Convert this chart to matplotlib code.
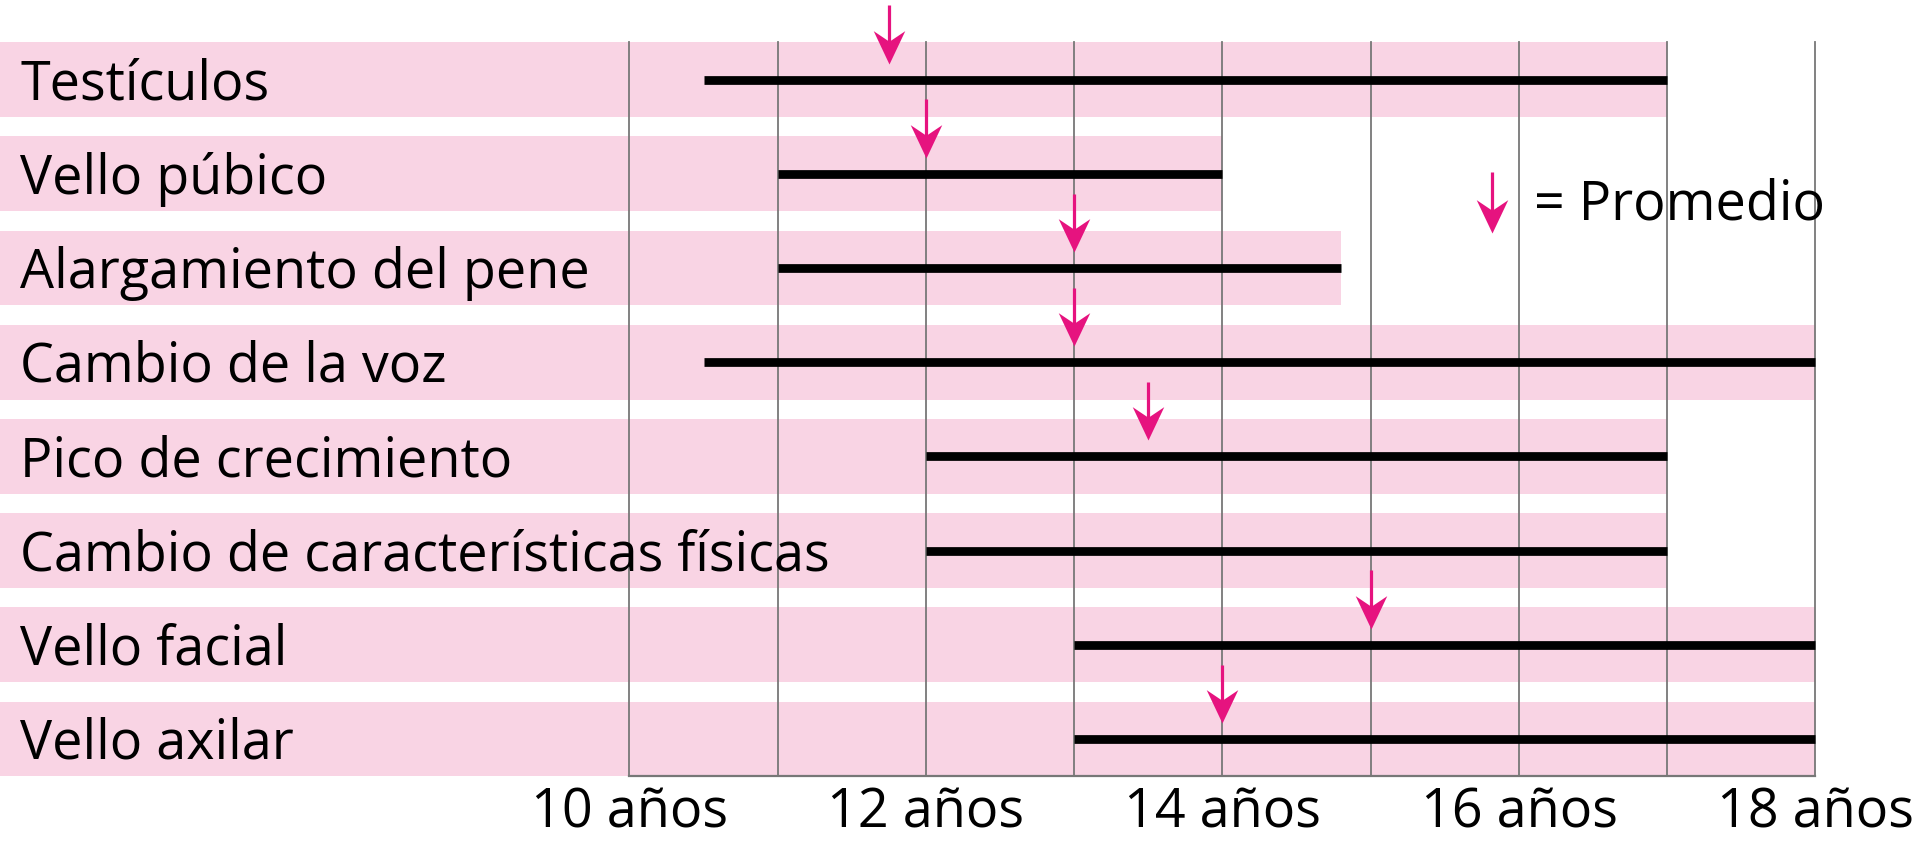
import matplotlib
matplotlib.use("Agg")
import matplotlib.pyplot as plt
from matplotlib.path import Path
from matplotlib.markers import MarkerStyle

# ---- data ----
categories = ["Testículos", "Vello púbico", "Alargamiento del pene", "Cambio de la voz",
              "Pico de crecimiento", "Cambio de características físicas", "Vello facial", "Vello axilar"]
start_age = [10.5, 11, 11, 10.5, 12, 12, 13, 13]
end_age = [17, 14, 14.8, 18, 17, 17, 18, 18]
avg_age = [11.75, 12, 13, 13, 13.5, None, 15, 14]
tick_ages = [10, 12, 14, 16, 18]
tick_labels = ["10 años", "12 años", "14 años", "16 años", "18 años"]
grid_ages = [10, 11, 12, 13, 14, 15, 16, 17, 18]
legend_label = "= Promedio"
legend_age = 15.82

PINK = "#f9d4e4"
MAGENTA = "#e6137f"
GRAY = "#777777"
FONT = ["Open Sans", "DejaVu Sans"]
FS = 38.8

fig = plt.figure(figsize=(19.2, 8.44), dpi=100)
ax = fig.add_axes([0, 0, 1, 1])
ax.set_xlim(5.754, 18.705)
ax.set_ylim(8.115, -0.845)
ax.axis("off")

half = 0.3965
for i, (cat, s, e) in enumerate(zip(categories, start_age, end_age)):
    ax.barh(i, e - 5.754, left=5.754, height=2 * half, color=PINK, zorder=1, linewidth=0)
    ax.plot([s, e], [i, i], color="black", lw=6.3, solid_capstyle="butt", zorder=4)
    ax.text(5.754 + 0.135, i + 0.21, cat, fontsize=FS, family=FONT, va="baseline", ha="left", zorder=5)

# grid lines
for g in grid_ages:
    ax.plot([g, g], [-half, len(categories) - 1 + half], color=GRAY, lw=1.3, zorder=3)
ax.plot([grid_ages[0], grid_ages[-1]], [len(categories) - 1 + half] * 2, color=GRAY, lw=1.6, zorder=3)

# tick labels
for t, lab in zip(tick_ages, tick_labels):
    ax.text(t, 7.945, lab, fontsize=FS, family=FONT, ha="center", va="baseline")

# arrow head marker (tip at origin, pointing down)
head = Path([(0, 0), (-0.52, 1.1), (0, 0.75), (0.52, 1.1), (0, 0)],
            [Path.MOVETO, Path.LINETO, Path.LINETO, Path.LINETO, Path.CLOSEPOLY])
head_marker = MarkerStyle(head)

def arrow(x, tip, length=0.62):
    ax.plot([x, x], [tip - length, tip - 0.15], color=MAGENTA, lw=2.3, solid_capstyle="butt", zorder=6)
    ax.plot([x], [tip], marker=head_marker, markersize=48, color=MAGENTA,
            markeredgewidth=0, zorder=7)

for i, a in enumerate(avg_age):
    if a is not None:
        arrow(a, i - 0.17)

arrow(legend_age, 1.626, length=0.65)
ax.text(16.1, 1.49, legend_label, fontsize=FS, family=FONT, ha="left", va="baseline", zorder=5)

fig.savefig("out.png", dpi=100)
